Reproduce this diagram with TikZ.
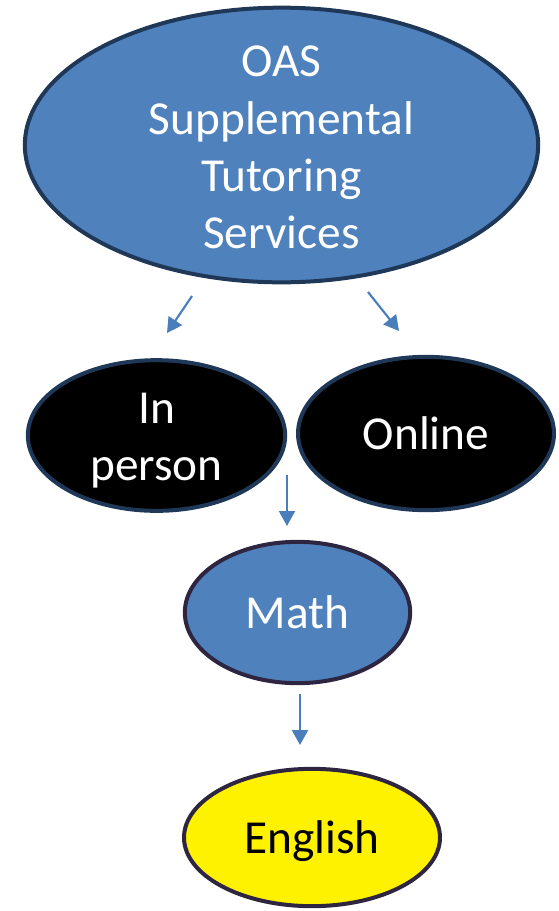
\documentclass[tikz,border=0pt]{standalone}
\usepackage{fontspec}
\setmainfont{Carlito}
\usetikzlibrary{shapes.geometric,arrows.meta}

\definecolor{oasblue}{HTML}{4F81BD}
\definecolor{navyrim}{HTML}{1F3858}
\definecolor{plumrim}{HTML}{2E2541}
\definecolor{arrowblue}{HTML}{4A7EBB}

\tikzset{
    bubble/.style={ellipse, inner sep=0pt, line width=3pt},
    bubbletext/.style={align=center, inner sep=0pt, font=\fontsize{35.5}{43}\selectfont},
    arr/.style={-{Triangle[length=11.25pt,width=12pt]}, arrowblue, line width=1.6pt}
}

\begin{document}
\begin{tikzpicture}[x=0.75pt,y=-0.75pt]

    \useasboundingbox (0,0) rectangle (558,911);

    \node[bubble, fill=oasblue, draw=navyrim, minimum width=385pt, minimum height=206pt,
        label={[bubbletext, text=white, yshift=-2pt]center:OAS\\Supplemental\\Tutoring\\Services}] (OAS) at (281.5,145) {};
    \node[bubble, fill=black, draw=navyrim, minimum width=193pt, minimum height=113pt,
        label={[bubbletext, text=white, yshift=-4pt]center:In\\person}] (IP) at (156.5,435.5) {};
    \node[bubble, fill=black, draw=navyrim, minimum width=192pt, minimum height=115pt,
        label={[bubbletext, text=white]center:Online}] (ON) at (426,433.5) {};
    \node[bubble, fill=oasblue, draw=plumrim, minimum width=169pt, minimum height=106pt,
        label={[bubbletext, text=white]center:Math}] (M) at (297.5,612.5) {};
    \node[bubble, fill=yellow, draw=plumrim, minimum width=192pt, minimum height=103pt,
        label={[bubbletext, text=black, yshift=-3pt]center:English}] (E) at (312,837.5) {};

    \coordinate (a1) at (192,296);
    \coordinate (b1) at (167,333);
    \coordinate (a2) at (368,292);
    \coordinate (b2) at (399,331);
    \coordinate (a3) at (287,475);
    \coordinate (b3) at (287,526);
    \coordinate (a4) at (300,694);
    \coordinate (b4) at (300,745);

    \draw[arr] (a1) -- (b1);
    \draw[arr] (a2) -- (b2);
    \draw[arr] (a3) -- (b3);
    \draw[arr] (a4) -- (b4);

\end{tikzpicture}
\end{document}
